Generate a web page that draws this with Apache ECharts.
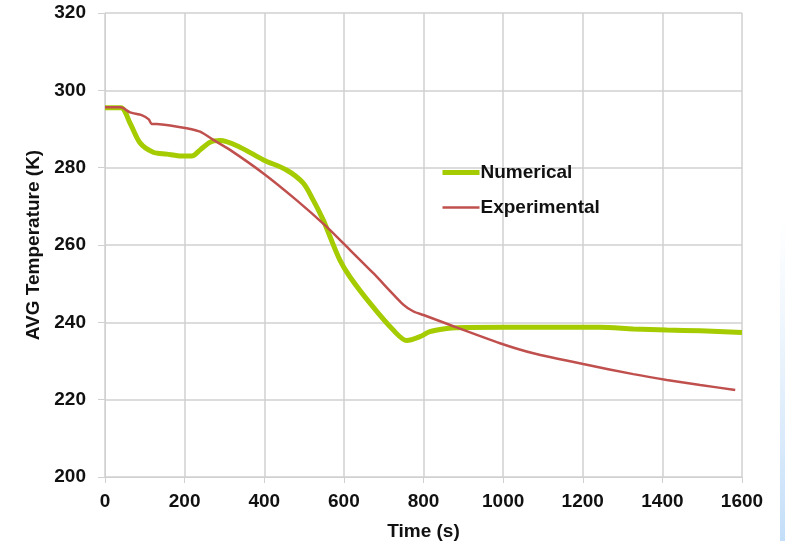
<!DOCTYPE html>
<html>
<head>
<meta charset="utf-8">
<script src="https://cdn.jsdelivr.net/npm/echarts@6/dist/echarts.min.js"></script>
<style>
  html, body { margin: 0; padding: 0; background: #fff; }
  #chart { width: 785px; height: 541px; }
</style>
</head>
<body>
<div id="chart"></div>
<script>
// values
const numTime = [0, 40, 63, 88, 121, 155, 193, 218, 239, 264, 289, 339, 398, 456, 498, 523, 548, 565, 590, 615, 666, 724, 758, 791, 816, 858, 883, 1000, 1243, 1327, 1411, 1495, 1600];
const numTemp = [295.5, 295.5, 291.5, 286.4, 284, 283.5, 283, 283, 284.6, 286.6, 287, 285.3, 282, 279.4, 276, 271.6, 266.5, 262.2, 256.1, 251.8, 244.9, 238, 235.3, 236.3, 237.6, 238.4, 238.6, 238.7, 238.7, 238.3, 238, 237.8, 237.4];

const expTime = [0, 40, 63, 92, 110, 117, 130, 171, 205, 239, 272, 314, 398, 481, 557, 599, 674, 750, 775, 800, 867, 992, 1076, 1201, 1327, 1411, 1495, 1583];
const expTemp = [295.6, 295.6, 294.3, 293.6, 292.5, 291.3, 291.3, 290.8, 290.2, 289.3, 287.2, 284.6, 278.5, 271.6, 264.7, 260.4, 252.7, 244.5, 242.8, 241.9, 239.3, 234.6, 232, 229.2, 226.6, 225.1, 223.8, 222.5];

const seriesNames = ['Numerical', 'Experimental'];

const font = 'Liberation Sans, Arial, sans-serif';
const gridColor = '#d0d0d0';
const green = '#a4cc00';
const red = '#c0504d';

function pairs(xs, ys) {
  return xs.map((x, i) => [x, ys[i]]);
}

const chart = echarts.init(document.getElementById('chart'));

chart.setOption({
  animation: false,
  backgroundColor: '#fff',
  grid: { left: 105, right: 43, top: 13, bottom: 64, outerBoundsMode: 'none', containLabel: false },
  graphic: [{
    type: 'rect',
    shape: { x: 780, y: 220, width: 5, height: 321 },
    style: {
      fill: new echarts.graphic.LinearGradient(0, 0, 0, 1, [
        { offset: 0, color: 'rgba(210,230,250,0)' },
        { offset: 1, color: 'rgba(195,222,248,1)' }
      ])
    },
    silent: true
  }],
  legend: {
    orient: 'vertical',
    left: 440,
    top: 163,
    padding: 0,
    itemWidth: 37,
    itemHeight: 14,
    itemGap: 16,
    itemStyle: { opacity: 0 },
    data: [
      { name: seriesNames[0], lineStyle: { color: green, width: 5 } },
      { name: seriesNames[1], lineStyle: { color: red, width: 2.5 } }
    ],
    textStyle: { fontFamily: font, fontWeight: 'bold', fontSize: 19, color: '#111', padding: [0, 0, 0, -4] }
  },
  xAxis: {
    type: 'value',
    min: 0,
    max: 1600,
    interval: 200,
    name: 'Time (s)',
    nameLocation: 'middle',
    nameGap: 45,
    nameTextStyle: { fontFamily: font, fontWeight: 'bold', fontSize: 19, color: '#111' },
    axisLine: { show: true, lineStyle: { color: gridColor } },
    axisTick: { show: true, length: 6, lineStyle: { color: gridColor } },
    axisLabel: { fontFamily: font, fontWeight: 'bold', fontSize: 19, color: '#111', margin: 15, formatter: v => String(v) },
    splitLine: { show: true, lineStyle: { color: gridColor, width: 1.5 } }
  },
  yAxis: {
    type: 'value',
    min: 200,
    max: 320,
    interval: 20,
    name: 'AVG Temperature (K)',
    nameLocation: 'middle',
    nameGap: 62,
    nameTextStyle: { fontFamily: font, fontWeight: 'bold', fontSize: 19, color: '#111' },
    axisLine: { show: true, lineStyle: { color: gridColor } },
    axisTick: { show: true, length: 7, lineStyle: { color: gridColor } },
    axisLabel: { fontFamily: font, fontWeight: 'bold', fontSize: 19, color: '#111', margin: 19 },
    splitLine: { show: true, lineStyle: { color: gridColor, width: 1.5 } }
  },
  series: [
    {
      name: seriesNames[0],
      type: 'line',
      data: pairs(numTime, numTemp),
      showSymbol: false,
      symbol: 'none',
      smooth: 0.3,
      itemStyle: { color: green },
      lineStyle: { color: green, width: 5 }
    },
    {
      name: seriesNames[1],
      type: 'line',
      data: pairs(expTime, expTemp),
      showSymbol: false,
      symbol: 'none',
      smooth: 0.2,
      itemStyle: { color: red },
      lineStyle: { color: red, width: 2.5 }
    }
  ]
});
</script>
</body>
</html>
